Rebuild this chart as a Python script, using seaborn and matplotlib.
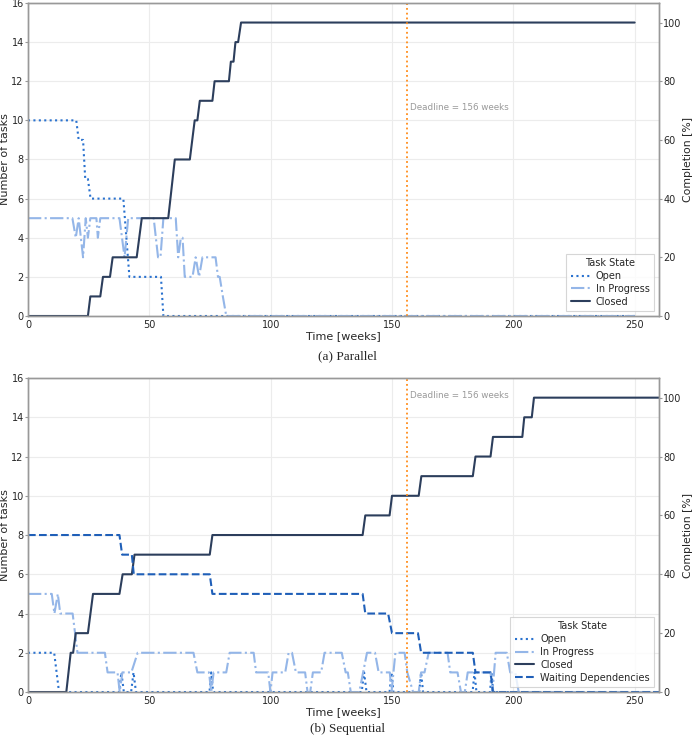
import numpy as np
import pandas as pd
import matplotlib
matplotlib.use("Agg")
import matplotlib.pyplot as plt
import seaborn as sns

# --- Data (weeks, number of tasks) ---

# (a) Parallel
par_open_weeks = [0, 19.9, 20.9, 22.7, 23.6, 24.7, 25.8, 39.3, 41.8, 54.8, 55.8, 250]
par_open_count = [10, 10, 9, 9, 7, 7, 6, 6, 2, 2, 0, 0]

par_prog_weeks = [0, 18.3, 19.7, 20.9, 22.7, 23.8, 24.7, 25.7, 28.2, 28.8, 29.8,
                  37.7, 39.8, 41.3, 51.8, 53.6, 54.6, 55.8, 60.9, 61.9, 63.0,
                  63.7, 64.6, 67.8, 69.1, 70.5, 71.9, 77.3, 78.3, 79.0, 80.3, 81.7, 250]
par_prog_count = [5, 5, 4, 5, 3, 5, 4, 5, 5, 4, 5,
                  5, 3, 5, 5, 3, 3, 5, 5, 3, 4,
                  4, 2, 2, 3, 2, 3, 3, 2, 2, 1, 0, 0]

par_closed_weeks = [0, 24.7, 25.7, 29.8, 30.9, 33.8, 34.9, 44.8, 46.9, 57.8, 60.5, 66.7,
                    68.7, 69.8, 70.8, 76.0, 76.9, 82.8, 83.6, 84.7, 85.5, 86.6, 87.8, 250]
par_closed_count = [0, 0, 1, 1, 2, 2, 3, 3, 5, 5, 8, 8,
                    10, 10, 11, 11, 12, 12, 13, 13, 14, 14, 15, 15]

# (b) Sequential
seq_open_weeks = [0, 10.8, 12.8, 37.5, 38.5, 39.5, 42.5, 43.5, 44.5, 74.8, 75.5, 76.3,
                  137.5, 138.5, 139.5, 149.0, 149.8, 150.6, 161.2, 162.0, 162.8,
                  183.2, 184.0, 184.8, 190.4, 191.0, 191.7, 262]
seq_open_count = [2, 2, 0, 0, 1, 0, 0, 1, 0, 0, 1, 0,
                  0, 1, 0, 0, 1, 0, 0, 1, 0,
                  0, 1, 0, 0, 1, 0, 0]

seq_prog_weeks = [0, 9.8, 10.9, 12.3, 13.3, 18.4, 20.4, 31.7, 32.8, 36.9, 37.8, 38.9,
                  42.6, 45.2, 68.2, 69.8, 74.6, 75.5, 76.5, 81.7, 83.1, 93.0, 94.0,
                  99.0, 99.9, 100.8, 106.0, 107.4, 108.8, 110.4, 114.2, 115.2, 116.3,
                  117.4, 120.8, 122.2, 129.3, 130.9, 131.8, 133.0, 136.5, 139.7, 143.0,
                  144.5, 149.1, 149.8, 151.4, 155.2, 156.3, 158.7, 161.0, 162.0, 163.4,
                  165.1, 172.9, 174.0, 177.0, 178.4, 180.0, 181.2, 190.6, 191.4, 192.7,
                  197.3, 198.7, 200.8, 202.2, 262]
seq_prog_count = [5, 5, 4, 5, 4, 4, 2, 2, 1, 1, 0, 1,
                  1, 2, 2, 1, 1, 0, 1, 1, 2, 2, 1,
                  1, 0, 1, 1, 2, 2, 1, 1, 0, 0,
                  1, 1, 2, 2, 1, 1, 0, 0, 2, 2,
                  1, 1, 0, 2, 2, 1, 0, 0, 1, 1,
                  2, 2, 1, 1, 0, 0, 1, 1, 0, 2,
                  2, 1, 1, 0, 0]

seq_closed_weeks = [0, 15.8, 17.6, 18.6, 19.7, 24.7, 26.8, 37.7, 39.0, 42.8, 43.9, 74.9,
                    76.0, 137.9, 139.0, 149.0, 150.0, 161.0, 162.1, 183.3, 184.4, 190.6,
                    191.6, 203.7, 204.5, 207.6, 208.5, 262]
seq_closed_count = [0, 0, 2, 2, 3, 3, 5, 5, 6, 6, 7, 7,
                    8, 8, 9, 9, 10, 10, 11, 11, 12, 12,
                    13, 13, 14, 14, 15, 15]

seq_wait_weeks = [0, 37.7, 38.8, 42.8, 43.6, 74.9, 76.0, 137.9, 139.0, 148.4, 150.0,
                  160.7, 162.0, 183.3, 184.4, 190.6, 191.6, 262]
seq_wait_count = [8, 8, 7, 7, 6, 6, 5, 5, 4, 4, 3,
                  3, 2, 2, 1, 1, 0, 0]

total_tasks = 15
deadline = 156

states = ["Open", "In Progress", "Closed", "Waiting Dependencies"]
colors = {"Open": "#2a72cf", "In Progress": "#94b6e8",
          "Closed": "#2c3e5c", "Waiting Dependencies": "#1f5fb8"}
dashes = {"Open": (1, 1.6), "In Progress": (6.4, 1.6, 1, 1.6),
          "Closed": "", "Waiting Dependencies": (3.7, 1.6)}


def make_df(series):
    frames = []
    for state, (w, c) in series.items():
        frames.append(pd.DataFrame({"week": w, "tasks": c, "state": state}))
    return pd.concat(frames, ignore_index=True)


df_par = make_df({"Open": (par_open_weeks, par_open_count),
                  "In Progress": (par_prog_weeks, par_prog_count),
                  "Closed": (par_closed_weeks, par_closed_count)})
df_seq = make_df({"Open": (seq_open_weeks, seq_open_count),
                  "In Progress": (seq_prog_weeks, seq_prog_count),
                  "Closed": (seq_closed_weeks, seq_closed_count),
                  "Waiting Dependencies": (seq_wait_weeks, seq_wait_count)})

sns.set_style("whitegrid", {"grid.color": "#ececec", "axes.edgecolor": "#999999"})
plt.rcParams["font.family"] = ["DejaVu Sans"]

fig = plt.figure(figsize=(6.94, 7.43), dpi=100)
ax_top = fig.add_axes([0.0403, 0.5747, 0.9092, 0.4213])
ax_bot = fig.add_axes([0.0403, 0.0686, 0.9092, 0.4226])

panels = [(ax_top, df_par, 0.665), (ax_bot, df_seq, 0.945)]
for ax, df, text_y in panels:
    present = [s for s in states if s in df["state"].unique()]
    sns.lineplot(data=df, x="week", y="tasks", hue="state", style="state",
                 hue_order=present, style_order=present,
                 palette=colors, dashes=dashes, estimator=None, sort=False,
                 linewidth=1.5, ax=ax)
    ax.axvline(deadline, color="#ff8c1a", linestyle=":", linewidth=1.3)
    ax.text(deadline + 1.5, text_y * 16, f"Deadline = {deadline} weeks",
            fontsize=6.3, color="#999999", va="center")
    ax.set_xlim(0, 260)
    ax.set_ylim(0, 16)
    ax.set_yticks(np.arange(0, 17, 2))
    ax.set_xticks([0, 50, 100, 150, 200, 250])
    ax.set_xlabel("Time [weeks]", fontsize=8, labelpad=1)
    ax.set_ylabel("Number of tasks", fontsize=8, labelpad=1)
    ax.tick_params(labelsize=7, length=2, pad=1, color="#999999")
    for sp in ax.spines.values():
        sp.set_color("#999999")
        sp.set_linewidth(1.0)

    ax2 = ax.twinx()
    ax2.set_ylim(0, 16 / total_tasks * 100)
    ax2.set_yticks([0, 20, 40, 60, 80, 100])
    ax2.grid(False)
    ax2.set_ylabel("Completion [%]", fontsize=7.8, labelpad=1)
    ax2.tick_params(labelsize=7, length=2, pad=1, color="#999999")
    for sp in ax2.spines.values():
        sp.set_color("#999999")
        sp.set_linewidth(1.0)

    leg = ax.legend(title="Task State", loc="lower right", fontsize=7,
                    title_fontsize=7, frameon=True, fancybox=False,
                    borderpad=0.45, handlelength=2.0, labelspacing=0.3,
                    handletextpad=0.6)
    leg.get_frame().set_edgecolor("#cccccc")
    leg.get_frame().set_linewidth(0.8)
    leg.set_zorder(10)

fig.text(0.5, 0.5205, "(a) Parallel", ha="center", va="center",
         family="Liberation Serif", fontsize=9.5)
fig.text(0.5, 0.0195, "(b) Sequential", ha="center", va="center",
         family="Liberation Serif", fontsize=9.5)

fig.savefig("out.png", dpi=100)
